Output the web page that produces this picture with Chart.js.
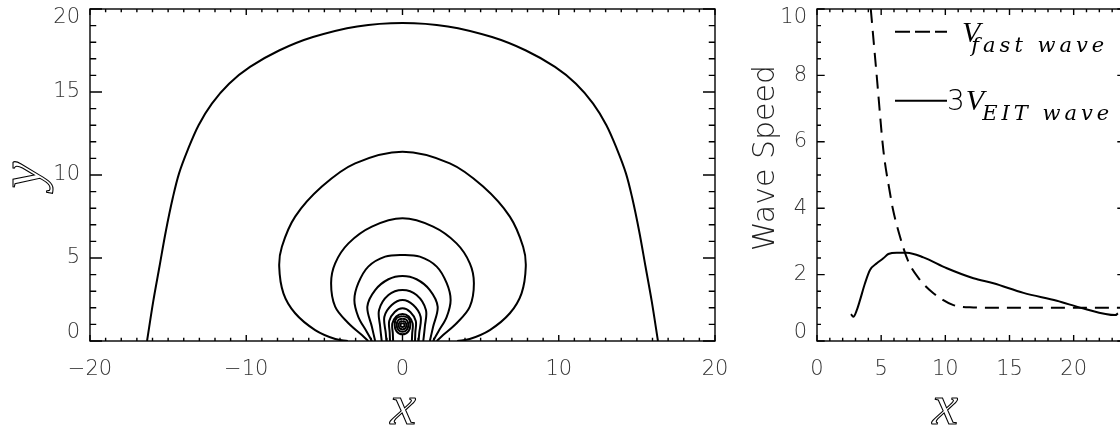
<!DOCTYPE html>
<html>
<head>
<meta charset="utf-8">
<script src="https://cdn.jsdelivr.net/npm/chart.js@4.4.1/dist/chart.umd.min.js"></script>
<style>
  html, body { margin: 0; padding: 0; background: #fff; overflow: hidden; width: 1120px; height: 429px; }
  #left { position: absolute; left: 0; top: 0; }
  #right { position: absolute; left: 740px; top: 0; }
</style>
</head>
<body>
<canvas id="left" width="740" height="429"></canvas>
<canvas id="right" width="400" height="429"></canvas>
<script>
// ---- left panel: field-line contours, right half (top -> foot) ----
const line1 = [[0, 19.16], [2.9, 18.95], [5.73, 18.31], [7.9, 17.5], [9.76, 16.51], [11.1, 15.5], [12.2, 14.3], [13.05, 13.0], [13.75, 11.5], [14.3, 10.1], [14.69, 8.67], [15.15, 6.6], [15.55, 4.5], [15.95, 2.4], [16.35, 0]];
const line2 = [[0, 11.4], [3.03, 10.7], [5.16, 9.3], [6.87, 7.49], [7.72, 5.68], [7.89, 4.48], [7.62, 2.87], [6.87, 1.67], [5.59, 0.66], [4.3, 0.12], [3.5, 0]];
const line3 = [[0, 7.39], [1.96, 6.89], [3.46, 5.88], [4.31, 4.68], [4.57, 3.48], [4.31, 2.07], [3.46, 1.07], [2.6, 0.36], [2.19, 0]];
const line4 = [[0, 5.18], [1.11, 5.08], [2.19, 4.48], [2.83, 3.48], [3.08, 2.47], [2.83, 1.46], [2.29, 0.56], [1.96, 0]];
const line5 = [[0, 3.92], [0.9, 3.72], [1.75, 3.07], [2.25, 2.07], [1.96, 0.86], [1.75, 0]];
const line6 = [[0, 3.07], [0.9, 2.77], [1.5, 1.87], [1.43, 0.86], [1.33, 0]];
const line7 = [[0, 2.47], [0.69, 2.17], [1.16, 1.46], [1.07, 0.46], [1.03, 0]];
const line8 = [[0, 1.97], [0.5, 1.75], [0.85, 1.2], [0.82, 0.5], [0.8, 0]];
const line9 = [[0, 1.63], [0.4, 1.48], [0.65, 1.05], [0.62, 0.45], [0.6, 0]];
// closed loops round the rope centre, full outline
const ring1 = [[0, 1.5], [0.38, 1.38], [0.5, 0.98], [0.38, 0.58], [0, 0.4], [-0.38, 0.58], [-0.5, 0.98], [-0.38, 1.38], [0, 1.5]];
const ring2 = [[0, 1.35], [0.27, 1.26], [0.37, 0.97], [0.27, 0.67], [0, 0.55], [-0.27, 0.67], [-0.37, 0.97], [-0.27, 1.26], [0, 1.35]];
const ring3 = [[0, 1.2], [0.18, 1.14], [0.25, 0.96], [0.18, 0.77], [0, 0.7], [-0.18, 0.77], [-0.25, 0.96], [-0.18, 1.14], [0, 1.2]];
const ring4 = [[0, 1.08], [0.1, 1.04], [0.13, 0.96], [0.1, 0.88], [0, 0.84], [-0.1, 0.88], [-0.13, 0.96], [-0.1, 1.04], [0, 1.08]];

const leftXTicks = [-20, -10, 0, 10, 20];
const leftYTicks = [0, 5, 10, 15, 20];

// ---- right panel: wave speeds ----
const fastX = [4.19, 4.66, 5.17, 5.69, 5.9, 6.47, 7.12, 8.03, 9.07, 10.63, 12.19, 14, 16, 18, 20, 22, 24];
const fastY = [10.0, 7.96, 5.75, 4.45, 4.0, 3.14, 2.39, 1.84, 1.44, 1.08, 1.01, 1.0, 1.0, 1.0, 1.0, 1.0, 1.0];
const eitX = [2.65, 2.83, 3.1, 3.35, 3.74, 4.13, 4.66, 5.17, 5.56, 6.22, 7.0, 8.29, 10.12, 12.19, 13.75, 16.09, 18.69, 20.77, 23.25, 23.45];
const eitY = [0.81, 0.73, 0.93, 1.23, 1.74, 2.14, 2.34, 2.49, 2.62, 2.66, 2.66, 2.52, 2.19, 1.89, 1.74, 1.45, 1.21, 0.98, 0.78, 0.83];

const rightXTicks = [0, 5, 10, 15, 20];
const rightYTicks = [0, 2, 4, 6, 8, 10];

function mirrored(half) {
    const left = half.slice().reverse().map(p => ({ x: -p[0], y: p[1] }));
    const right = half.slice(1).map(p => ({ x: p[0], y: p[1] }));
    return left.concat(right);
}
function asPoints(list) {
    return list.map(p => ({ x: p[0], y: p[1] }));
}
function zip(xs, ys) {
    return xs.map((x, i) => ({ x: x, y: ys[i] }));
}
function fmt(v) {
    return v < 0 ? '\u2212' + Math.abs(v) : String(v);
}
// end labels sit a little inside the frame, as in the original
function yLabel(maxV) {
    return v => v === maxV ? ['', fmt(v)] : (v === 0 ? [fmt(v), ''] : fmt(v));
}

const tickFont = { family: "'DejaVu Sans', sans-serif", size: 21, weight: '200', lineHeight: 0.81 };
const tickFontX = { family: "'DejaVu Sans', sans-serif", size: 21, weight: '200' };

const framePlugin = {
    id: 'frame',
    afterDatasetsDraw(chart, args, o) {
        const { ctx, chartArea: a, scales: { x, y } } = chart;
        const major = (v, m) => Math.abs(v / m - Math.round(v / m)) < 1e-6;
        ctx.save();
        ctx.strokeStyle = '#000';
        ctx.lineWidth = 1.4;
        ctx.strokeRect(a.left, a.top, a.width, a.height);
        ctx.beginPath();
        for (let v = x.min; v <= x.max + 1e-9; v += o.xMinor) {
            const px = x.getPixelForValue(v);
            const len = major(v, o.xMajor) ? o.xLen : o.xLen * 0.55;
            ctx.moveTo(px, a.bottom); ctx.lineTo(px, a.bottom - len);
            ctx.moveTo(px, a.top); ctx.lineTo(px, a.top + len);
        }
        for (let v = y.min; v <= y.max + 1e-9; v += o.yMinor) {
            const py = y.getPixelForValue(v);
            const len = major(v, o.yMajor) ? o.yLen : o.yLen * 0.52;
            ctx.moveTo(a.left, py); ctx.lineTo(a.left + len, py);
            ctx.moveTo(a.right, py); ctx.lineTo(a.right - len, py);
        }
        ctx.stroke();
        ctx.restore();
    }
};

// axis titles; the script letters are drawn as outlines like the original's hollow strokes
const titlePlugin = {
    id: 'titles',
    afterDraw(chart, args, o) {
        const ctx = chart.ctx;
        o.items.forEach(t => {
            ctx.save();
            ctx.font = t.font;
            ctx.textAlign = 'center';
            ctx.textBaseline = 'alphabetic';
            ctx.translate(t.x, t.y);
            if (t.rotate) ctx.rotate(-Math.PI / 2);
            if (t.outline) {
                ctx.strokeStyle = '#000';
                ctx.lineWidth = 1.1;
                ctx.strokeText(t.text, 0, 0);
            } else {
                ctx.fillStyle = t.color || '#000';
                ctx.fillText(t.text, 0, 0);
            }
            ctx.restore();
        });
    }
};

const legendPlugin = {
    id: 'subLegend',
    afterDraw(chart, args, o) {
        const ctx = chart.ctx;
        o.items.forEach(it => {
            ctx.save();
            ctx.strokeStyle = '#000';
            ctx.lineWidth = 2;
            ctx.setLineDash(it.dash);
            ctx.beginPath();
            ctx.moveTo(it.x0, it.y);
            ctx.lineTo(it.x1, it.y);
            ctx.stroke();
            ctx.setLineDash([]);
            ctx.fillStyle = '#000';
            ctx.textBaseline = 'alphabetic';
            let x = it.tx;
            if (it.prefix) {
                ctx.font = o.prefixFont;
                ctx.fillText(it.prefix, x, it.base);
                x += ctx.measureText(it.prefix).width + 1;
            }
            ctx.font = o.mainFont;
            ctx.fillText(it.main, x, it.base);
            x += ctx.measureText(it.main).width;
            ctx.font = o.subFont;
            ctx.letterSpacing = o.subSpacing;
            ctx.fillText(it.sub, x + it.subShift, it.base + o.subDrop);
            ctx.restore();
        });
    }
};

const lineStyle = { showLine: true, borderColor: '#000', borderWidth: 2, pointRadius: 0, fill: false };

new Chart(document.getElementById('left'), {
    type: 'scatter',
    data: {
        datasets: [line1, line2, line3, line4, line5, line6, line7, line8, line9].map(h => Object.assign({ data: mirrored(h), tension: 0.35 }, lineStyle))
            .concat([ring1, ring2, ring3, ring4].map(r => Object.assign({ data: asPoints(r), tension: 0.4 }, lineStyle)))
    },
    options: {
        responsive: false,
        animation: false,
        events: [],
        layout: { padding: { left: 0, right: 25, top: 9, bottom: 0 } },
        plugins: {
            legend: { display: false },
            tooltip: { enabled: false },
            frame: { xMinor: 1, xMajor: 10, xLen: 6, yMinor: 1, yMajor: 5, yLen: 12 },
            titles: {
                items: [
                    { text: 'x', x: 403, y: 424, outline: true, font: "italic 58px 'Liberation Serif', serif" },
                    { text: 'y', x: 40, y: 175, rotate: true, outline: true, font: "italic 60px 'Liberation Serif', serif" }
                ]
            }
        },
        scales: {
            x: {
                type: 'linear', min: -20, max: 20,
                afterBuildTicks: s => { s.ticks = leftXTicks.map(v => ({ value: v })); },
                afterFit: s => { s.height = 88; s.paddingLeft = 0; s.paddingRight = 0; },
                grid: { display: false, drawTicks: false },
                border: { display: false },
                ticks: { padding: 16, color: '#333', font: tickFontX, maxRotation: 0, callback: fmt }
            },
            y: {
                type: 'linear', min: 0, max: 20,
                afterBuildTicks: s => { s.ticks = leftYTicks.map(v => ({ value: v })); },
                afterFit: s => { s.width = 90; s.paddingTop = 0; s.paddingBottom = 0; },
                grid: { display: false, drawTicks: false },
                border: { display: false },
                ticks: { padding: 10, color: '#333', font: tickFont, callback: yLabel(20) }
            }
        }
    },
    plugins: [framePlugin, titlePlugin]
});

new Chart(document.getElementById('right'), {
    type: 'scatter',
    data: {
        datasets: [
            Object.assign({ data: zip(fastX, fastY), borderDash: [14, 8], cubicInterpolationMode: 'monotone' }, lineStyle),
            Object.assign({ data: zip(eitX, eitY), cubicInterpolationMode: 'monotone' }, lineStyle)
        ]
    },
    options: {
        responsive: false,
        animation: false,
        events: [],
        layout: { padding: { left: 0, right: 15, top: 9, bottom: 0 } },
        plugins: {
            legend: { display: false },
            tooltip: { enabled: false },
            frame: { xMinor: 1, xMajor: 5, xLen: 6, yMinor: 0.5, yMajor: 2, yLen: 7.7 },
            titles: {
                items: [
                    { text: 'x', x: 205, y: 424, outline: true, font: "italic 58px 'Liberation Serif', serif" },
                    { text: 'Wave Speed', x: 34, y: 158, rotate: true, color: '#222', font: "200 30px 'DejaVu Sans', sans-serif" }
                ]
            },
            subLegend: {
                prefixFont: "200 28px 'DejaVu Sans', sans-serif",
                mainFont: "italic 30px 'Liberation Serif', serif",
                subFont: "italic 21px 'DejaVu Serif', serif",
                subSpacing: '4px',
                subDrop: 10,
                items: [
                    { x0: 155, x1: 207, y: 31.7, dash: [15, 5], tx: 222, main: 'V', sub: 'fast wave', base: 42, subShift: -9 },
                    { x0: 155, x1: 207, y: 100.7, dash: [], tx: 207, prefix: '3', main: 'V', sub: 'EIT wave', base: 110, subShift: -2 }
                ]
            }
        },
        scales: {
            x: {
                type: 'linear', min: 0, max: 24,
                afterBuildTicks: s => { s.ticks = rightXTicks.map(v => ({ value: v })); },
                afterFit: s => { s.height = 88; s.paddingLeft = 0; s.paddingRight = 0; },
                grid: { display: false, drawTicks: false },
                border: { display: false },
                ticks: { padding: 16, color: '#333', font: tickFontX, maxRotation: 0, callback: fmt }
            },
            y: {
                type: 'linear', min: 0, max: 10,
                afterBuildTicks: s => { s.ticks = rightYTicks.map(v => ({ value: v })); },
                afterFit: s => { s.width = 77; s.paddingTop = 0; s.paddingBottom = 0; },
                grid: { display: false, drawTicks: false },
                border: { display: false },
                ticks: { padding: 10, color: '#333', font: tickFont, callback: yLabel(10) }
            }
        }
    },
    plugins: [framePlugin, titlePlugin, legendPlugin]
});
</script>
</body>
</html>
